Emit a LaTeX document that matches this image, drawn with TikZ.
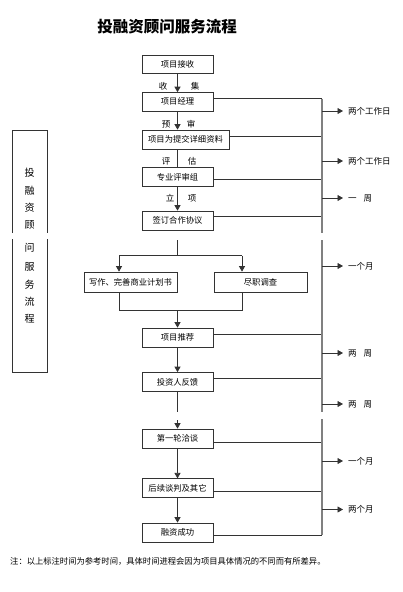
\documentclass[tikz,border=0pt]{standalone}
\usepackage{fontspec}
\newfontfamily\cjk{Noto Sans CJK SC}
\usetikzlibrary{arrows.meta}
\begin{document}
\begin{tikzpicture}[x=1pt,y=-1pt,
 box/.style={draw=black!80,line width=0.7pt,fill=white,inner sep=0pt,minimum width=71pt,minimum height=18.5pt,font=\cjk\fontsize{8.3}{9}\selectfont},
 conn/.style={draw=black!80,line width=0.75pt},
 arr/.style={conn,-{Triangle[length=5.5pt,width=6pt]}},
 bus/.style={draw=black!50,line width=1.5pt},
 lbl/.style={font=\cjk\fontsize{8.5}{9}\selectfont,inner sep=0pt},
 tlbl/.style={font=\cjk\fontsize{8.5}{9}\selectfont,anchor=west,inner xsep=5pt,inner ysep=0pt},
 vch/.style={font=\cjk\fontsize{10}{10}\selectfont,inner sep=0pt}
]
\useasboundingbox (0,0) rectangle (403,592);

% title
\node[font=\cjk\bfseries\fontsize{15.5}{16}\selectfont,inner sep=0pt] (title) at (167,27) {投融资顾问服务流程};

% main boxes
\node[box] (A) at (177.5,64.2) {项目接收};
\node[box] (B) at (177.5,101.8) {项目经理};
\node[box,minimum width=87pt,minimum height=19pt] (C) at (185.5,139.5) {项目为提交详细资料};
\node[box] (D) at (177.5,177) {专业评审组};
\node[box,minimum height=19pt] (E) at (177.5,220.5) {签订合作协议};
\node[box,minimum width=93pt,minimum height=20pt] (F) at (130.5,282) {写作、完善商业计划书};
\node[box,minimum width=93pt,minimum height=20pt] (G) at (260.5,282) {尽职调查};
\node[box,minimum height=19pt] (H) at (177.5,337.5) {项目推荐};
\node[box,minimum height=19pt] (I) at (177.5,382) {投资人反馈};
\node[box,minimum height=19pt] (J) at (177.5,438.5) {第一轮洽谈};
\node[box] (K) at (177.5,488) {后续谈判及其它};
\node[box,minimum height=19pt] (L) at (177.5,532.5) {融资成功};

% labels on the main line
\node[lbl] (l1a) at (163,86) {收};
\node[lbl] (l1b) at (195,86) {集};
\node[lbl] (l2a) at (166,124) {预};
\node[lbl] (l2b) at (191,124) {审};
\node[lbl] (l3a) at (166,161.5) {评};
\node[lbl] (l3b) at (192,161.5) {估};
\node[lbl] (l4a) at (170,198.5) {立};
\node[lbl] (l4b) at (192,198.5) {项};

% main connectors
\draw[arr] (A.south) -- (B.north);
\draw[arr] (B.south) -- (B.south |- C.north);
\draw[conn] (D.north |- C.south) -- (D.north);
\draw[arr] (D.south) -- (E.north);

\coordinate (s0) at (177.5,240);
\coordinate (s1) at (177.5,255.7);
\coordinate (sl) at (119,255.7);
\coordinate (sr) at (242,255.7);
\draw[conn] (s0) -- (s1);
\draw[conn] (sl) -- (sr);
\draw[arr] (sl) -- (sl |- F.north);
\draw[arr] (sr) -- (sr |- G.north);

\coordinate (jl) at (119,310);
\coordinate (jr) at (242,310);
\coordinate (jm) at (177.5,310);
\draw[conn] (jl |- F.south) -- (jl) -- (jr) -- (jr |- G.south);
\draw[arr] (jm) -- (H.north);
\draw[arr] (H.south) -- (I.north);

\coordinate (g1) at (177.5,411.7);
\coordinate (g2) at (177.5,420);
\draw[conn] (I.south) -- (g1);
\draw[arr] (g2) -- (J.north);
\draw[arr] (J.south) -- (K.north);
\draw[arr] (K.south) -- (L.north);

% right bus
\coordinate (bB) at (322,98.5);
\coordinate (bC) at (322,136);
\coordinate (bD) at (322,179.5);
\coordinate (bE) at (322,216.8);
\coordinate (bH) at (322,334);
\coordinate (bI) at (322,378);
\coordinate (bJ) at (322,442);
\coordinate (bK) at (322,491.7);
\coordinate (bL) at (322,535);
\draw[conn] (B.east |- bB) -- (bB);
\draw[conn] (C.east |- bC) -- (bC);
\draw[conn] (D.east |- bD) -- (bD);
\draw[conn] (E.east |- bE) -- (bE);
\draw[conn] (H.east |- bH) -- (bH);
\draw[conn] (I.east |- bI) -- (bI);
\draw[conn] (J.east |- bJ) -- (bJ);
\draw[conn] (K.east |- bK) -- (bK);
\draw[conn] (L.east |- bL) -- (bL);

\coordinate (gap1a) at (322,232.5);
\coordinate (gap1b) at (322,240);
\coordinate (gap2a) at (322,411.7);
\coordinate (gap2b) at (322,419);
\draw[bus] (bB) -- (gap1a);
\draw[bus] (gap1b) -- (gap2a);
\draw[bus] (gap2b) -- (bL);

% time labels
\node[tlbl] (t1) at (343,111) {两个工作日};
\node[tlbl] (t2) at (343,161) {两个工作日};
\node[tlbl] (t3) at (343,198) {一\hspace{0.8em}周};
\node[tlbl] (t4) at (343,266) {一个月};
\node[tlbl] (t5) at (343,353) {两\hspace{0.8em}周};
\node[tlbl] (t6) at (343,404) {两\hspace{0.8em}周};
\node[tlbl] (t7) at (343,461) {一个月};
\node[tlbl] (t8) at (343,509.5) {两个月};
\foreach \t in {t1,t2,t3,t4,t5,t6,t7,t8}
  \draw[arr] (\t.west -| bB) -- (\t.west);

% left side box
\coordinate (lb1) at (12,130);
\coordinate (lb2) at (47,130);
\coordinate (lb3) at (12,372);
\coordinate (lb4) at (47,372);
\draw[conn] (12,233) -- (lb1) -- (lb2) -- (47,233);
\draw[conn] (12,239) -- (lb3) -- (lb4) -- (47,239);
\node[vch] (v1) at (29.5,173) {投};
\node[vch] (v2) at (29.5,190.5) {融};
\node[vch] (v3) at (29.5,208) {资};
\node[vch] (v4) at (29.5,224.5) {顾};
\node[vch] (v5) at (29.5,248) {问};
\node[vch] (v6) at (29.5,267) {服};
\node[vch] (v7) at (29.5,284.5) {务};
\node[vch] (v8) at (29.5,302) {流};
\node[vch] (v9) at (29.5,319) {程};

% note
\node[font=\cjk\fontsize{8.3}{9}\selectfont,anchor=west,inner sep=0pt] (note) at (10,561) {注：以上标注时间为参考时间，具体时间进程会因为项目具体情况的不同而有所差异。};
\end{tikzpicture}
\end{document}
